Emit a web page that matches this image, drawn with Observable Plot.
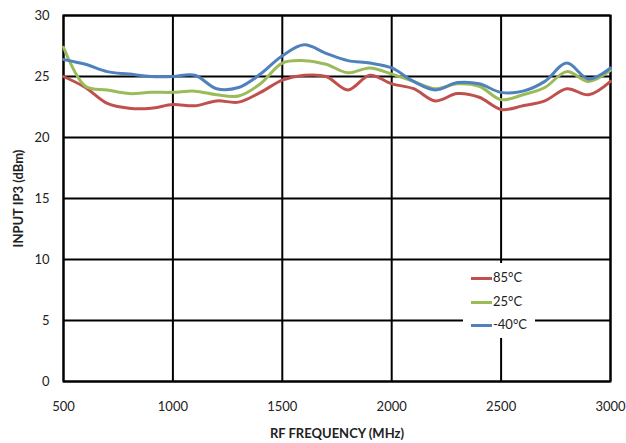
<!DOCTYPE html>
<html><head><meta charset="utf-8">
<script src="https://cdn.jsdelivr.net/npm/d3@7"></script>
<script src="https://cdn.jsdelivr.net/npm/@observablehq/plot@0.6"></script>
<style>
body{margin:0;background:#fff;font-family:Lato,"Open Sans",sans-serif;}
#wrap{position:relative;width:626px;height:443px;}
svg g[aria-label="x-axis label"] text, svg g[aria-label="y-axis label"] text{font-weight:bold;font-size:13px;}
#legend{position:absolute;left:463px;top:263px;width:72px;height:75px;background:#fff;font-size:13px;color:#222;}
.row{position:absolute;left:8px;height:16px;line-height:16px;}
.sw{display:inline-block;width:21px;height:3px;vertical-align:middle;margin-right:1px;}
</style></head>
<body><div id="wrap"></div>
<script>
const freqs = [500,600,700,800,900,1000,1100,1200,1300,1400,1500,1600,1700,1800,1900,2000,2100,2200,2300,2400,2500,2600,2700,2800,2900,3000];
const t85 = [25.0,24.1,22.8,22.4,22.4,22.7,22.6,23.0,22.9,23.7,24.7,25.1,25.0,23.9,25.1,24.4,24.0,23.0,23.6,23.3,22.3,22.6,23.0,24.0,23.5,24.6];
const t25 = [27.4,24.2,23.9,23.6,23.7,23.7,23.8,23.5,23.4,24.4,26.1,26.3,26.0,25.3,25.7,25.2,24.6,24.0,24.4,24.2,23.1,23.5,24.1,25.4,24.6,25.5];
const tm40 = [26.4,26.0,25.4,25.2,25.0,25.0,25.1,24.0,24.1,25.2,26.7,27.6,26.9,26.3,26.1,25.7,24.6,23.9,24.5,24.4,23.7,23.8,24.6,26.1,24.8,25.7];
const seriesNames = ["85°C","25°C","-40°C"];
const seriesColors = ["#C0504D","#9BBB59","#4F81BD"];
const xTicks = [500,1000,1500,2000,2500,3000];
const yTicks = [0,5,10,15,20,25,30];

const seriesVals = [t85,t25,tm40];
const rows = [];
seriesVals.forEach((vals,si)=>vals.forEach((v,i)=>rows.push({f:freqs[i],v,s:seriesNames[si]})));

const chart = Plot.plot({
  width:626, height:443,
  marginLeft:63, marginRight:16, marginTop:15, marginBottom:62,
  style:{fontFamily:"Lato, 'Open Sans', sans-serif", fontSize:"13px", color:"#222"},
  x:{domain:[500,3000]},
  y:{domain:[0,30]},
  color:{domain:seriesNames, range:seriesColors},
  marks:[
    Plot.gridX(xTicks,{stroke:"#000",strokeOpacity:1,strokeWidth:2}),
    Plot.gridY(yTicks,{stroke:"#000",strokeOpacity:1,strokeWidth:2}),
    Plot.frame({stroke:"#000",strokeWidth:2}),
    Plot.line(rows,{x:"f",y:"v",stroke:"s",z:"s",strokeWidth:3,curve:"catmull-rom"}),
    Plot.axisX(xTicks,{tickSize:0,tickPadding:20,fontSize:13,tickFormat:d=>String(d),label:"RF FREQUENCY (MHz)",labelAnchor:"center",labelArrow:"none",labelOffset:56}),
    Plot.axisY(yTicks,{tickSize:0,tickPadding:14,fontSize:13,tickFormat:d=>String(d),label:"INPUT IP3 (dBm)",labelAnchor:"center",labelArrow:"none",labelOffset:50})
  ]
});
const wrap=document.getElementById("wrap");
wrap.appendChild(chart);
const lg=document.createElement("div");lg.id="legend";
seriesNames.forEach((n,i)=>{
  const r=document.createElement("div");r.className="row";r.style.top=(6+i*23.5)+"px";
  r.innerHTML=`<span class="sw" style="background:${seriesColors[i]}"></span>${n}`;
  lg.appendChild(r);
});
wrap.appendChild(lg);
</script></body></html>
